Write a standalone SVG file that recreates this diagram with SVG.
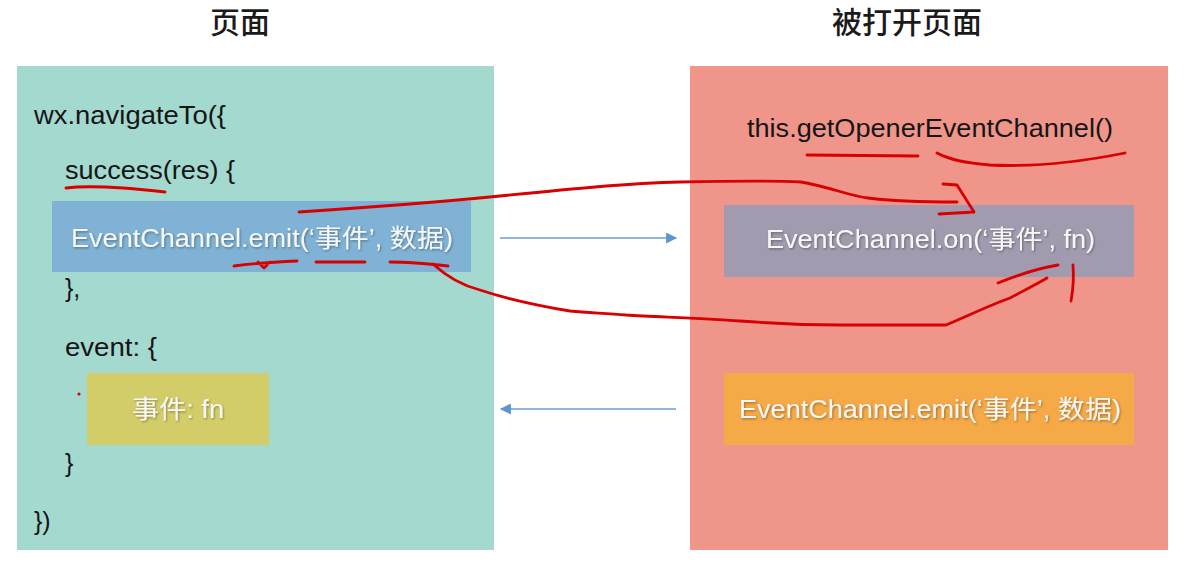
<svg xmlns="http://www.w3.org/2000/svg" width="1184" height="569" viewBox="0 0 1184 569">
  <style>
    .t { font-family: "Liberation Sans", "Noto Sans CJK SC", sans-serif; font-size: 25px; fill: #151515; }
    .w { font-family: "Liberation Sans", "Noto Sans CJK SC", sans-serif; font-size: 25px; fill: #f7f7f7; filter: url(#sh); }
    .title { font-family: "Noto Sans CJK SC", "Liberation Sans", sans-serif; font-size: 30px; fill: #1a1a1a; font-weight: 500; }
    .conn { stroke: #6a9fcf; stroke-width: 1.5; fill: none; }
    .ink { stroke: #d80000; stroke-width: 2.8; fill: none; stroke-linecap: round; stroke-linejoin: round; }
  </style>
  <defs>
    <filter id="sh" x="-5%" y="-20%" width="110%" height="140%">
      <feDropShadow dx="1" dy="1.2" stdDeviation="0.8" flood-color="#000" flood-opacity="0.35"/>
    </filter>
    <marker id="ah" viewBox="0 0 10 10" refX="9" refY="5" markerWidth="12" markerHeight="11" markerUnits="userSpaceOnUse" orient="auto">
      <path d="M0,0 L10,5 L0,10 z" fill="#5b95cc"/>
    </marker>
  </defs>
  <rect width="1184" height="569" fill="#ffffff"/>

  <g id="title-page"><text class="title" x="240" y="33" text-anchor="middle">页面</text></g>
  <g id="title-opened"><text class="title" x="907" y="33" text-anchor="middle">被打开页面</text></g>

  <g id="panel-page">
    <rect x="17" y="66" width="477" height="484" fill="#a3d9cf"/>
    <text class="t" x="34" y="124" textLength="192" lengthAdjust="spacingAndGlyphs">wx.navigateTo({</text>
    <text class="t" x="65" y="179" textLength="170" lengthAdjust="spacingAndGlyphs">success(res) {</text>
    <text class="t" x="65" y="297">},</text>
    <text class="t" x="65" y="356" textLength="92" lengthAdjust="spacingAndGlyphs">event: {</text>
    <text class="t" x="65" y="472">}</text>
    <text class="t" x="34" y="530">})</text>
  </g>

  <g id="node-emit">
    <rect x="52" y="201" width="419" height="71" fill="#7fb2d4"/>
    <text class="w" x="71" y="247" textLength="382" lengthAdjust="spacingAndGlyphs">EventChannel.emit(‘事件’, 数据)</text>
  </g>

  <g id="node-event-fn">
    <rect x="87" y="373" width="182" height="72" fill="#d3cd69"/>
    <text class="w" x="132" y="418" textLength="92" lengthAdjust="spacingAndGlyphs">事件: fn</text>
  </g>

  <g id="panel-opened">
    <rect x="690" y="66" width="478" height="484" fill="#f0958a"/>
    <text class="t" x="747" y="137" textLength="366" lengthAdjust="spacingAndGlyphs">this.getOpenerEventChannel()</text>
  </g>

  <g id="node-on">
    <rect x="724" y="205" width="410" height="72" fill="#a29aae"/>
    <text class="w" x="766" y="248" textLength="329" lengthAdjust="spacingAndGlyphs">EventChannel.on(‘事件’, fn)</text>
  </g>

  <g id="node-emit-opened">
    <rect x="724" y="373" width="410" height="72" fill="#f5a947"/>
    <text class="w" x="739" y="418" textLength="382" lengthAdjust="spacingAndGlyphs">EventChannel.emit(‘事件’, 数据)</text>
  </g>

  <g id="connectors">
    <line class="conn" x1="500" y1="238" x2="676" y2="238" marker-end="url(#ah)"/>
    <line class="conn" x1="676" y1="409" x2="501" y2="409" marker-end="url(#ah)"/>
  </g>

  <g id="annotations">
    <path class="ink" d="M66,188 C90,185 130,188 165,192"/>
    <path class="ink" d="M299,212 C360,208 430,203 500,196 C570,189 630,183 680,182 C730,181 780,181 801,182 C830,187 850,196 868,198 C900,202 935,202 957,202"/>
    <path class="ink" d="M943,184 L957,185 L974,212 L939,214"/>
    <path class="ink" d="M807,155 L918,156"/>
    <path class="ink" d="M937,153 C950,160 965,163 990,165 C1030,167 1080,162 1125,153"/>
    <path class="ink" d="M234,266 C250,264 275,262 297,261 M258,262 L264,268 L270,262"/>
    <path class="ink" d="M316,262 L365,262"/>
    <path class="ink" d="M390,262 C410,262 430,264 448,266"/>
    <path class="ink" d="M433,264 C445,275 460,285 480,290 C510,300 540,306 570,311 C590,313 605,313 626,315 C660,317 700,318 740,321 C780,324 801,325 840,325 C880,325 920,325 946,325 C970,315 990,305 1010,298 C1025,290 1035,285 1047,278"/>
    <path class="ink" d="M998,283 C1015,276 1035,269 1058,265"/>
    <path class="ink" d="M1073,265 C1074,278 1073,290 1071,301"/>
    <circle cx="79" cy="394" r="1.6" fill="#d80000"/>
  </g>
</svg>
